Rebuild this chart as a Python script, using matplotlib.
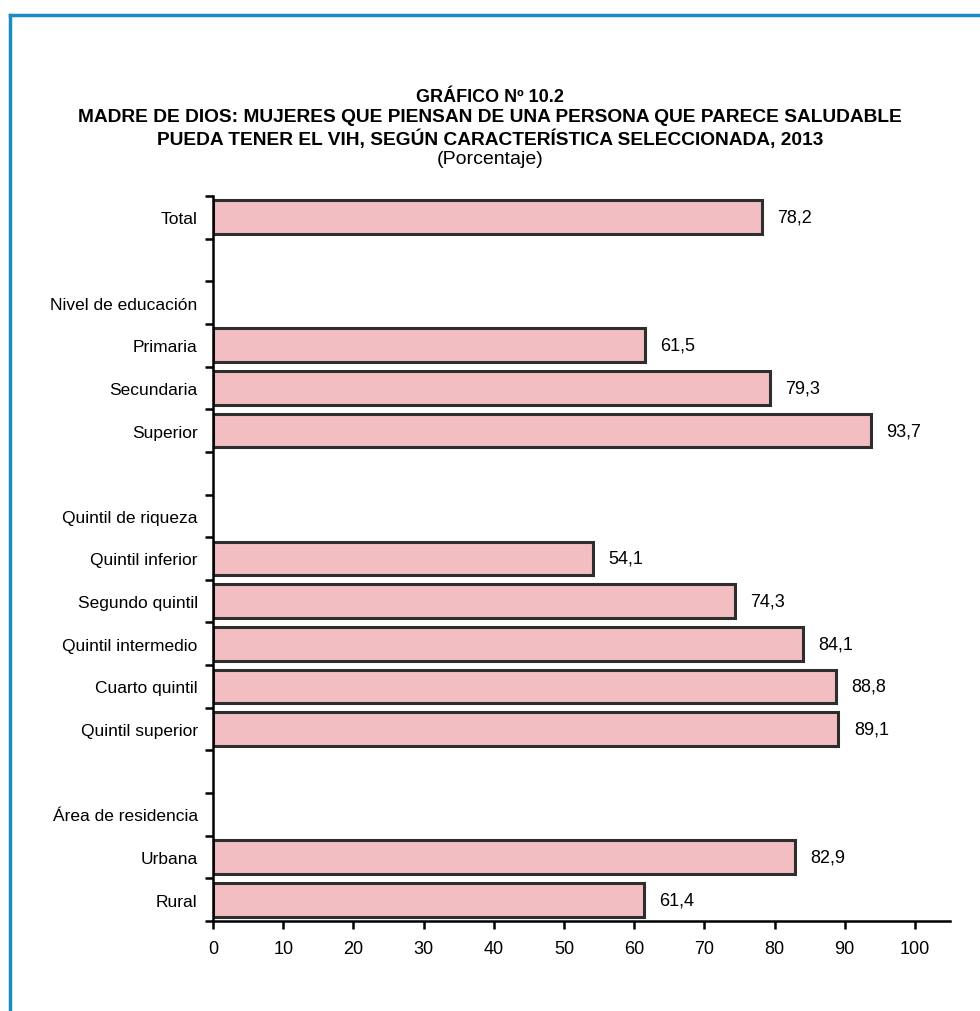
import matplotlib
matplotlib.use('Agg')
import matplotlib.pyplot as plt
import matplotlib.patheffects as pe
from matplotlib.lines import Line2D

plt.rcParams['font.family'] = ['Liberation Sans', 'DejaVu Sans']

# datos
categorias = ['Total', '', 'Nivel de educación', 'Primaria', 'Secundaria', 'Superior', '',
              'Quintil de riqueza', 'Quintil inferior', 'Segundo quintil', 'Quintil intermedio',
              'Cuarto quintil', 'Quintil superior', '', 'Área de residencia', 'Urbana', 'Rural']
valores = [78.2, None, None, 61.5, 79.3, 93.7, None,
           None, 54.1, 74.3, 84.1, 88.8, 89.1, None, None, 82.9, 61.4]
xticks = [0, 10, 20, 30, 40, 50, 60, 70, 80, 90, 100]

fig = plt.figure(figsize=(9.8, 10.12), dpi=100)

# marco azul (arriba e izquierda)
azul = '#1a8cc2'
fig.add_artist(Line2D([0.0105, 1.0], [1 - 16/1012, 1 - 16/1012], color=azul, lw=2.5,
                      transform=fig.transFigure))
fig.add_artist(Line2D([0.0105, 0.0105], [0, 1 - 16/1012], color=azul, lw=2.5,
                      transform=fig.transFigure))

# titulos
fig.text(0.5, 1 - 97/1012, 'GRÁFICO Nº 10.2', ha='center', va='center',
         fontsize=13, fontweight='bold')
fig.text(0.5, 1 - 118/1012, 'MADRE DE DIOS: MUJERES QUE PIENSAN DE UNA PERSONA QUE PARECE SALUDABLE',
         ha='center', va='center', fontsize=13.8, fontweight='bold')
fig.text(0.5, 1 - 139/1012, 'PUEDA TENER EL VIH, SEGÚN CARACTERÍSTICA SELECCIONADA, 2013',
         ha='center', va='center', fontsize=13.8, fontweight='bold')
fig.text(0.5, 1 - 160/1012, '(Porcentaje)', ha='center', va='center', fontsize=14)

ax = fig.add_axes([213/980, 1 - 922/1012, (950 - 213)/980, (922 - 197)/1012])

n = len(categorias)
pos = list(range(n))
for i, v in enumerate(valores):
    if v is None:
        continue
    b = ax.barh(i, v, height=0.79, color='#f2bec1', edgecolor='#2e2e2e', linewidth=2.2)
    b[0].set_path_effects([pe.SimplePatchShadow(offset=(1.5, -1.5), shadow_rgbFace='#a0a0a0', alpha=0.7),
                           pe.Normal()])
    ax.text(v + 2.2, i, f'{v:.1f}'.replace('.', ','), va='center', ha='left', fontsize=13)

ax.set_xlim(0, 105)
ax.set_ylim(n - 0.5, -0.5)

ax.set_xticks(xticks)
ax.set_xticklabels([str(t) for t in xticks], fontsize=13)
ax.tick_params(axis='x', direction='out', length=6, width=1.8, pad=8)

ax.set_yticks([k - 0.5 for k in range(n + 1)])
ax.set_yticklabels([])
ax.set_yticks(pos, minor=True)
ax.set_yticklabels(categorias, minor=True, fontsize=12.5)
ax.tick_params(axis='y', which='major', direction='out', length=6, width=1.8)
ax.tick_params(axis='y', which='minor', length=0, pad=11)

for s in ['top', 'right']:
    ax.spines[s].set_visible(False)
ax.spines['left'].set_linewidth(1.8)
ax.spines['bottom'].set_linewidth(1.8)

fig.savefig('out.png', dpi=100)
